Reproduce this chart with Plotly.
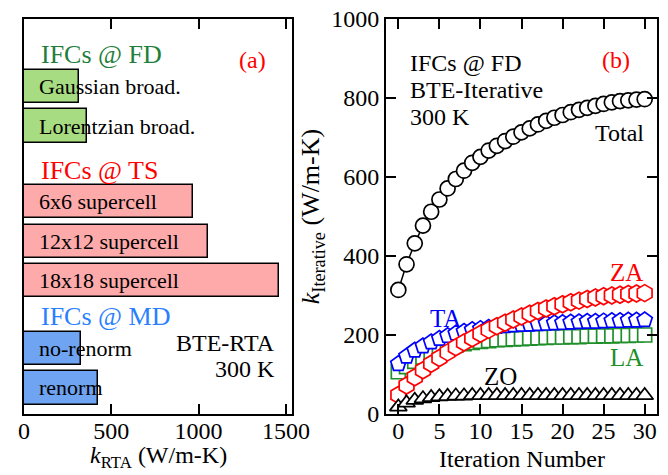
import plotly.graph_objects as go

# ---------------- data ----------------
# panel (a): k_RTA bars
fd_title = "IFCs @ FD"
fd_labels = ["Gaussian broad.", "Lorentzian broad."]
fd_values = [315, 361]
ts_title = "IFCs @ TS"
ts_labels = ["6x6 supercell", "12x12 supercell", "18x18 supercell"]
ts_values = [968, 1054, 1462]
md_title = "IFCs @ MD"
md_labels = ["no-renorm", "renorm"]
md_values = [326, 424]

# panel (b): k_Iterative vs iteration number
iterations = list(range(31))
total = [314, 379, 432, 477, 512, 543, 571, 595, 616, 636, 651, 667, 679, 691, 702, 713,
         723, 733, 742, 750, 757, 764, 770, 775, 780, 785, 789, 792, 794, 796, 797]
za = [48, 72, 93, 111, 127, 142, 156, 169, 181, 192, 203, 213, 222, 231, 239, 247,
      254, 261, 267, 273, 278, 283, 287, 291, 295, 298, 300, 302, 304, 305, 306]
ta = [127, 146, 161, 172, 182, 191, 198, 204, 209, 213, 216, 219, 221, 223, 225, 226,
      227, 228, 229, 230, 231, 232, 233, 234, 234, 235, 236, 236, 237, 237, 238]
la = [107, 120, 133, 144, 154, 162, 169, 174, 178, 181, 184, 186, 188, 189, 190, 191,
      192, 193, 194, 195, 195, 196, 196, 197, 197, 198, 198, 199, 199, 200, 200]
zo = [18, 28, 35, 39, 42, 44, 45, 46, 46, 47, 47, 47, 47, 47, 47, 47,
      47, 47, 47, 47, 47, 47, 47, 47, 47, 47, 47, 47, 47, 47, 47]

x_title_a = "<i>k</i><sub>RTA</sub> (W/m-K)"
x_title_b = "Iteration Number"
y_title_b = "<i>k</i><sub>Iterative</sub> (W/m-K)"

# ---------------- styling ----------------
FONT = "Liberation Serif, Times New Roman, serif"
GREEN_TXT = "#1f7f3a"
BLUE_TXT = "#2a7fff"
groups = [
    (fd_title, fd_labels, fd_values, "#a8dc82", GREEN_TXT),
    (ts_title, ts_labels, ts_values, "#ffaaaa", "#ff0000"),
    (md_title, md_labels, md_values, "#6fa4f2", BLUE_TXT),
]
group_gaps = [0.0, 0.92, 0.71]

fig = go.Figure()
annotations = []

pos = 0.0
for gi, (title, labels, values, fill, tcol) in enumerate(groups):
    if gi > 0:
        pos += group_gaps[gi]
    ys = [pos + k for k in range(len(values))]
    fig.add_trace(go.Bar(
        x=values, y=ys, orientation="h", width=0.84,
        marker=dict(color=fill, line=dict(color="black", width=1.5)),
        xaxis="x", yaxis="y", showlegend=False, hoverinfo="x",
    ))
    annotations.append(dict(text=title, x=86, y=pos - 0.8, xref="x", yref="y",
                            xanchor="left", yanchor="middle", showarrow=False,
                            font=dict(family=FONT, size=26, color=tcol)))
    for yv, lab in zip(ys, labels):
        annotations.append(dict(text=lab, x=76, y=yv, xref="x", yref="y",
                                xanchor="left", yanchor="middle", showarrow=False,
                                font=dict(family=FONT, size=22, color="black")))
    pos = ys[-1] + 1

# panel (b) traces
series = [
    (la, "square", "#1f8f2a", 14),
    (ta, "pentagon", "#0000ff", 16),
    (za, "hexagon", "#ff0000", 17),
    (zo, "triangle-up", "black", 15),
    (total, "circle", "black", 15),
]
for vals, sym, col, sz in series:
    fig.add_trace(go.Scatter(
        x=iterations, y=vals, mode="lines+markers", xaxis="x2", yaxis="y2",
        line=dict(color=col, width=1.5),
        marker=dict(symbol=sym, size=sz, color="white", line=dict(color=col, width=1.7)),
        showlegend=False,
    ))

# axis titles (x) placed as text below the tick labels
annotations += [
    dict(text=x_title_a, x=0.5, y=-0.152, xref="x domain", yref="y domain",
         xanchor="center", yanchor="bottom", showarrow=False,
         font=dict(family=FONT, size=24, color="black")),
    dict(text=x_title_b, x=0.5, y=-0.152, xref="x2 domain", yref="y2 domain",
         xanchor="center", yanchor="bottom", showarrow=False,
         font=dict(family=FONT, size=24, color="black")),
]

# annotations panel (a)
annotations += [
    dict(text="(a)", x=0.91, y=0.934, xref="x domain", yref="y domain",
         showarrow=False, font=dict(family=FONT, size=24, color="red")),
    dict(text="BTE-RTA", x=0.944, y=0.142, xref="x domain", yref="y domain",
         xanchor="right", showarrow=False, font=dict(family=FONT, size=24, color="black")),
    dict(text="300 K", x=0.944, y=0.076, xref="x domain", yref="y domain",
         xanchor="right", showarrow=False, font=dict(family=FONT, size=24, color="black")),
]
# annotations panel (b)
annotations += [
    dict(text="(b)", x=0.908, y=0.934, xref="x2 domain", yref="y2 domain",
         showarrow=False, font=dict(family=FONT, size=24, color="red")),
    dict(text="IFCs @ FD", x=0.081, y=0.927, xref="x2 domain", yref="y2 domain",
         xanchor="left", showarrow=False, font=dict(family=FONT, size=24, color="black")),
    dict(text="BTE-Iterative", x=0.081, y=0.857, xref="x2 domain", yref="y2 domain",
         xanchor="left", showarrow=False, font=dict(family=FONT, size=24, color="black")),
    dict(text="300 K", x=0.081, y=0.79, xref="x2 domain", yref="y2 domain",
         xanchor="left", showarrow=False, font=dict(family=FONT, size=24, color="black")),
    dict(text="Total", x=30.1, y=712, xref="x2", yref="y2", xanchor="right",
         showarrow=False, font=dict(family=FONT, size=24, color="black")),
    dict(text="ZA", x=27.8, y=357, xref="x2", yref="y2",
         showarrow=False, font=dict(family=FONT, size=25, color="red")),
    dict(text="TA", x=5.8, y=243, xref="x2", yref="y2",
         showarrow=False, font=dict(family=FONT, size=25, color="#0000ff")),
    dict(text="LA", x=27.8, y=142, xref="x2", yref="y2",
         showarrow=False, font=dict(family=FONT, size=25, color="#1f8f2a")),
    dict(text="ZO", x=12.4, y=94, xref="x2", yref="y2",
         showarrow=False, font=dict(family=FONT, size=25, color="black")),
]

axis_common = dict(showline=True, linecolor="black", linewidth=2, mirror="ticks",
                   ticks="inside", ticklen=10, tickwidth=2, tickcolor="black",
                   showgrid=False, zeroline=False, automargin=False,
                   tickfont=dict(family=FONT, size=24, color="black"))

fig.update_layout(
    width=668, height=475,
    margin=dict(l=24, r=11, t=19, b=61),
    font=dict(family=FONT, color="black"),
    plot_bgcolor="white", paper_bgcolor="white",
    bargap=0,
    annotations=annotations,
    xaxis=dict(domain=[0, 0.4234], range=[0, 1535], tickvals=[0, 500, 1000, 1500],
               ticklabelstandoff=-6, **axis_common),
    yaxis=dict(domain=[0, 1], range=[8.29, -1.71], showline=True, linecolor="black",
               linewidth=2, mirror=True, ticks="", showticklabels=False,
               showgrid=False, zeroline=False),
    xaxis2=dict(domain=[0.5719, 1], range=[-1.5, 31.5], dtick=5, tick0=0, anchor="y2",
                ticklabelstandoff=-6, **axis_common),
    yaxis2=dict(domain=[0, 1], range=[0, 1000], dtick=200, anchor="x2",
                title=dict(text=y_title_b, standoff=4,
                           font=dict(family=FONT, size=26, color="black")),
                **axis_common),
)

fig.write_html("out.html")
